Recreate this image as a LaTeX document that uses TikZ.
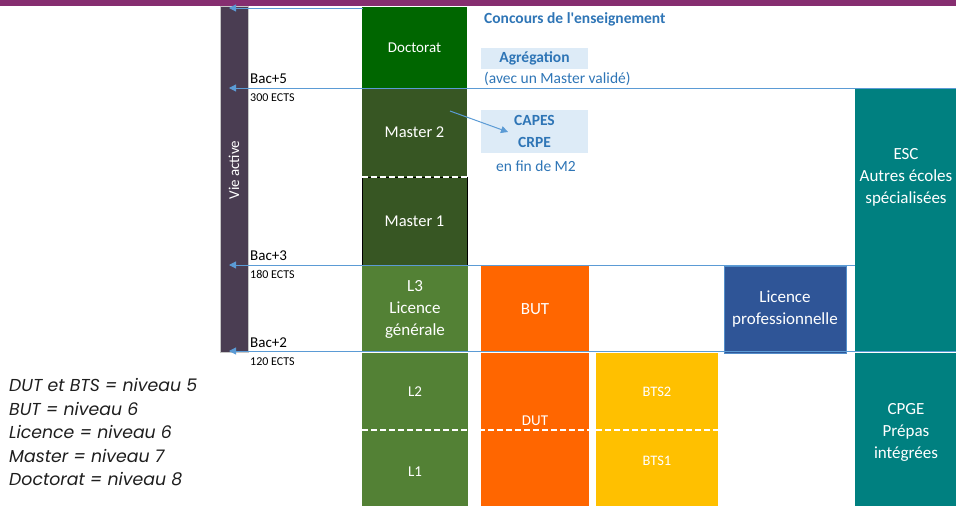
\documentclass[tikz,border=0pt]{standalone}
\usepackage{fontspec}
\setmainfont{Carlito}
\newfontfamily\legendfont{Poppins}
\usetikzlibrary{arrows.meta}
\definecolor{purplebar}{RGB}{134,46,112}
\definecolor{viebar}{RGB}{74,61,82}
\definecolor{docgreen}{RGB}{0,102,0}
\definecolor{mastgreen}{RGB}{55,86,35}
\definecolor{licgreen}{RGB}{83,129,53}
\definecolor{butorange}{RGB}{255,102,0}
\definecolor{btsyellow}{RGB}{255,192,0}
\definecolor{lpblue}{RGB}{47,85,151}
\definecolor{tealbox}{RGB}{0,128,128}
\definecolor{linkblue}{RGB}{91,155,213}
\definecolor{concblue}{RGB}{46,117,182}
\definecolor{lightbox}{RGB}{221,235,247}
\definecolor{legendtext}{RGB}{30,30,30}
\begin{document}
\begin{tikzpicture}[x=1pt,y=-1pt,
  box/.style={inner sep=0pt, outer sep=0pt, anchor=north west, text=white, align=center, font=\fontsize{17}{22}\selectfont},
  boxtext/.style={inner sep=0pt, text=white, align=center, font=\fontsize{17}{22}\selectfont},
  lvl/.style={-{Triangle[length=7pt,width=7pt]}, draw=linkblue, line width=1pt},
  split/.style={draw=white, line width=1.6pt, dash pattern=on 6pt off 3pt},
  bac/.style={anchor=west, inner sep=0pt, font=\fontsize{15}{16}\selectfont},
  ects/.style={anchor=west, inner sep=0pt, font=\fontsize{12}{13}\selectfont},
  bluetext/.style={inner sep=0pt, text=concblue, font=\fontsize{15.5}{22}\selectfont},
  legend/.style={anchor=west, inner sep=0pt, text=legendtext, font=\legendfont\itshape\fontsize{17.3}{20}\selectfont}]
\useasboundingbox (0,0) rectangle (956,506);
% top bar
\node[box, fill=purplebar, minimum width=956, minimum height=6] (topbar) at (0,0) {};
% vie active
\node[box, fill=viebar, draw=gray!45, line width=0.8pt, minimum width=28, minimum height=346] (vie) at (220,6) {};
\node[boxtext, rotate=90, font=\fontsize{15}{18}\selectfont] (vietext) at (234,170) {Vie active};
% main column
\node[box, fill=docgreen, minimum width=105, minimum height=81, font=\fontsize{15}{18}\selectfont] (doc) at (362,7) {Doctorat};
\node[box, fill=mastgreen, minimum width=105, minimum height=89, font=\fontsize{16.5}{20}\selectfont] (m2) at (362,88) {Master 2};
\node[box, fill=mastgreen, draw=black, line width=0.6pt, minimum width=105, minimum height=88, font=\fontsize{16.5}{20}\selectfont] (m1) at (362,177) {Master 1};
\node[box, fill=licgreen, minimum width=106, minimum height=86] (l3) at (362,266) {L3\\Licence\\générale};
\node[box, fill=licgreen, minimum width=106, minimum height=77, font=\fontsize{15}{18}\selectfont] (l2) at (362,353) {L2};
\node[box, fill=licgreen, minimum width=106, minimum height=76] (l1) at (362,430) {};
\node[boxtext, font=\fontsize{15}{18}\selectfont] (l1t) at (415,472) {L1};
% BUT / DUT
\node[box, fill=butorange, minimum width=108, minimum height=86] (but) at (481,266) {BUT};
\node[box, fill=butorange, minimum width=108, minimum height=153] (dut) at (481,353) {};
\node[boxtext, font=\fontsize{15}{18}\selectfont] (dutt) at (535,421) {DUT};
% BTS
\node[box, fill=btsyellow, minimum width=122, minimum height=77] (bts2) at (596,353) {};
\node[box, fill=btsyellow, minimum width=122, minimum height=76] (bts1) at (596,430) {};
\node[boxtext, font=\fontsize{14.5}{18}\selectfont] (bts2t) at (657,392) {BTS2};
\node[boxtext, font=\fontsize{14.5}{18}\selectfont] (bts1t) at (657,461) {BTS1};
% Licence pro
\node[box, fill=lpblue, draw=linkblue!80!lpblue, line width=0.6pt, minimum width=122, minimum height=87] (lp) at (724,266) {Licence\\professionnelle};
% ESC / CPGE
\node[box, fill=tealbox, minimum width=101, minimum height=263] (esc) at (855,88) {};
\node[boxtext] (esct) at (906,177) {ESC\\Autres écoles\\spécialisées};
\node[box, fill=tealbox, minimum width=101, minimum height=153] (cpge) at (855,353) {};
\node[boxtext] (cpget) at (906,432) {CPGE\\Prépas\\intégrées};
% concours
\node[bluetext, anchor=west, font=\bfseries\fontsize{15.5}{18}\selectfont] (conc) at (484,19) {Concours de l\textquotesingle enseignement};
\node[box, fill=lightbox, text=concblue, minimum width=107, minimum height=21, font=\bfseries\fontsize{15.5}{18}\selectfont] (agreg) at (481,48) {Agrégation};
\node[bluetext, anchor=west] (avec) at (484,79) {(avec un Master validé)};
\node[box, fill=lightbox, text=concblue, minimum width=107, minimum height=43, font=\bfseries\fontsize{15.5}{22}\selectfont] (capes) at (481,110) {CAPES\\CRPE};
\node[bluetext] (finm2) at (536,166) {en fin de M2};
% dashed separators
\draw[split] (m1.north west) -- (m1.north east);
\draw[split] (l1.north west) -- (bts1.north east);
% level lines
\coordinate (s0) at (363,8);   \coordinate (t0) at (229,8);
\coordinate (s5) at (956,88);  \coordinate (t5) at (229,88);
\coordinate (s3) at (855,265); \coordinate (t3) at (229,265);
\coordinate (s2) at (956,351); \coordinate (t2) at (229,351);
\draw[lvl] (s0) -- (t0);
\draw[lvl] (s5) -- (t5);
\draw[lvl] (s3) -- (t3);
\draw[lvl] (s2) -- (t2);
% Master 2 -> CAPES
\coordinate (ca) at (450,111);
\coordinate (cb) at (508,132);
\draw[lvl] (ca) -- (cb);
% Bac labels
\node[bac] (b5) at (250,79) {Bac+5};
\node[ects] (e5) at (250,98) {300 ECTS};
\node[bac] (b3) at (250,256) {Bac+3};
\node[ects] (e3) at (250,274) {180 ECTS};
\node[bac] (b2) at (250,343) {Bac+2};
\node[ects] (e2) at (250,362) {120 ECTS};
% legend
\node[legend] (lg1) at (9,385) {DUT et BTS = niveau 5};
\node[legend] (lg2) at (9,409) {BUT = niveau 6};
\node[legend] (lg3) at (9,432) {Licence = niveau 6};
\node[legend] (lg4) at (9,456) {Master = niveau 7};
\node[legend] (lg5) at (9,479) {Doctorat = niveau 8};
\end{tikzpicture}
\end{document}
